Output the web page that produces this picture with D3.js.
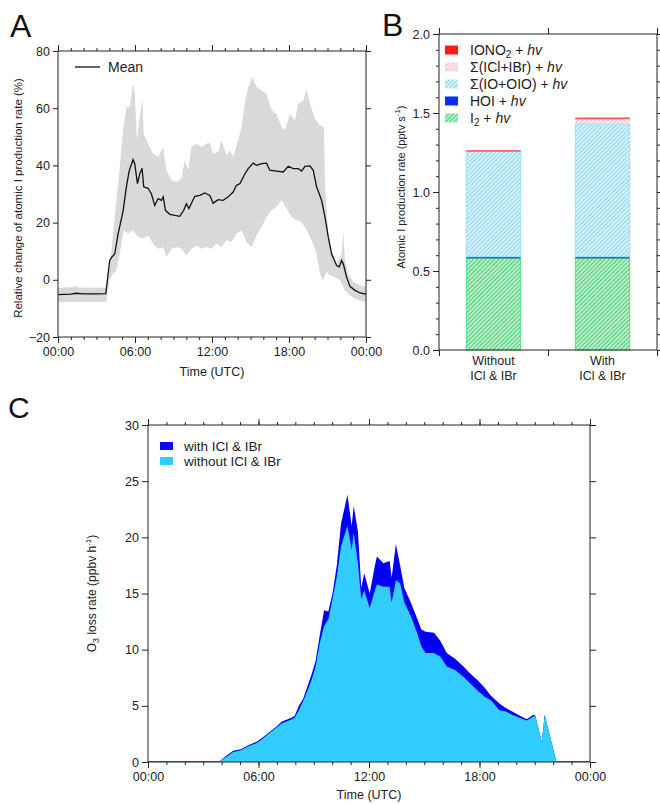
<!DOCTYPE html>
<html>
<head>
<meta charset="UTF-8">
<script src="https://d3js.org/d3.v7.min.js"></script>
<style>
    body { margin: 0; background: #fff; }
    svg { display: block; font-family: "Liberation Sans", Arial, sans-serif; }
    .tick text { font-size: 12.5px; fill: #222; }
    .tick line { stroke: #222; }
    .lbl { font-size: 12.5px; fill: #222; }
</style>
</head>
<body>
<svg width="660" height="804"></svg>
<script>
// ---- Panel A: relative change of atomic I production rate (%) ----
const meanHours = [0, 0.5, 1, 1.4, 2, 3, 3.72, 4.03, 4.2, 4.42, 4.68, 5.07, 5.33, 5.54, 5.85, 5.98, 6.19, 6.37, 6.55, 6.68,
    7.02, 7.28, 7.54, 7.8, 8.06, 8.2, 8.37, 8.71, 9.1, 9.49, 9.8, 10, 10.2, 10.66, 11.05, 11.44, 11.83, 12.09, 12.48, 12.87,
    13.26, 13.65, 13.9, 14.17, 14.56, 14.82, 15.21, 15.47, 15.86, 16.25, 16.5, 17.03, 17.55, 17.94, 18.33, 18.72, 18.98, 19.24,
    19.63, 19.89, 20.15, 20.54, 20.8, 21.06, 21.32, 21.71, 21.92, 22.1, 22.23, 22.49, 22.75, 23.14, 23.53, 24];
const meanValues = [-5.2, -5.1, -5, -4.7, -4.9, -4.9, -4.8, 6.8, 8, 9, 16, 24, 32.5, 38, 42, 40.6, 33.6, 37, 39, 32.5,
    32, 30, 26, 28.4, 27.8, 29, 24.3, 22.9, 22.5, 22.2, 24.3, 26.6, 24.9, 29.2, 29.5, 30.4, 29.5, 26.8, 28, 27.8,
    29, 30.7, 33, 33.6, 37, 38.9, 40.8, 40, 40.6, 40.8, 38.3, 38, 37.7, 39.7, 38.9, 38.9, 38, 39.7,
    39.8, 38.3, 32.5, 27.8, 22, 15, 9, 5, 4.5, 6.8, 5.6, 0.9, -2.3, -3.7, -4.6, -5];

const upperHours = [0, 1, 1.3, 1.6, 3.77, 4.03, 4.29, 4.55, 4.81, 5.07, 5.33, 5.59, 5.85, 5.98, 6.16, 6.37, 6.58, 6.68, 7.02, 7.41,
    7.8, 8.19, 8.45, 8.84, 9.23, 9.62, 9.88, 10.14, 10.4, 10.79, 11.18, 11.57, 11.83, 12.09, 12.48, 12.74, 13.13, 13.39, 13.65, 14.04,
    14.3, 14.56, 14.82, 15.16, 15.47, 15.86, 16.25, 16.64, 17.03, 17.42, 17.68, 18.07, 18.46, 18.72, 19.11, 19.37, 19.63, 20.02,
    20.41, 20.72, 20.8, 21.06, 21.32, 21.71, 22.1, 22.23, 22.36, 22.62, 23.01, 23.53, 24];
const upperValues = [-2.8, -2.6, -2.2, -2.7, -2.8, 4.5, 16, 27.8, 39.4, 52, 60.4, 60.4, 68.6, 65, 48.8, 57, 63.3, 51, 47.6, 44,
    43, 46.4, 38.3, 34.8, 34.2, 35.4, 41.8, 38.3, 46.4, 47.6, 46.4, 47.6, 48, 44, 44.7, 48.8, 43.5, 45.3, 43, 48.8,
    53.4, 61.6, 67.4, 70.9, 67.4, 66.2, 65, 59.3, 58, 53.4, 52.3, 58, 55.8, 61.6, 62.7, 66.8, 61.6, 56.3,
    54, 53.4, 33.6, 16, 10.3, 5.6, 9, 17, 6.8, 2.1, -0.8, -1.9, -2.5];

const lowerHours = [0, 3.77, 4.03, 4.29, 4.55, 4.81, 5.12, 5.46, 5.85, 6.24, 6.63, 7.02, 7.41, 7.8, 8.19, 8.45, 8.84, 9.23, 9.62, 10,
    10.4, 10.79, 11.18, 11.57, 11.96, 12.35, 12.74, 13.13, 13.52, 13.91, 14.3, 14.69, 15.08, 15.47, 15.86, 16.25, 16.64, 17.03,
    17.42, 17.81, 18.2, 18.59, 18.98, 19.37, 19.76, 20.15, 20.41, 20.67, 20.93, 21.19, 21.58, 21.97, 22.36, 22.75, 23.14, 23.53, 24];
const lowerValues = [-7.8, -7.8, 0.4, 2.1, 3.3, 9, 17.3, 16.1, 17.3, 15, 14.4, 15.5, 12.6, 10.9, 11.5, 8, 10.9, 11.5, 10.9, 8.6,
    10.9, 12, 10.9, 11.5, 10.9, 12.6, 11.5, 13.8, 13.2, 16.1, 17.3, 13.2, 11.5, 15.5, 18.5, 22, 24.3, 25.5,
    27.8, 24.9, 22, 20.8, 20.2, 17.3, 13.8, 9.1, 2.1, -0.2, 2.7, 1.6, 1, -0.2, -3.7, -5.4, -6.6, -7.2, -7.8];

// ---- Panel B: atomic I production rate (pptv s-1) ----
const scenarios = ["Without", "With"];
const pathwayKeys = ["I2", "HOI", "IOOIO", "IClIBr", "IONO2"];
const i2Rate = [0.58, 0.58];
const hoiRate = [0.01, 0.01];
const ioOioRate = [0.665, 0.84];
const iclIbrRate = [0.0, 0.03];
const iono2Rate = [0.01, 0.012];

// ---- Panel C: O3 loss rate (ppbv h-1) ----
const hoursC = [0, 3.83, 4.29, 4.63, 5.09, 5.44, 5.9, 6.24, 6.58, 6.93, 7.27, 7.73, 7.96, 8.19, 8.42, 8.65, 8.88, 9.1, 9.33, 9.56,
    9.79, 10.02, 10.25, 10.48, 10.83, 11.06, 11.17, 11.4, 11.58, 11.74, 12.04, 12.32, 12.43, 12.78, 13.12, 13.23, 13.46, 13.69,
    13.92, 14.27, 14.61, 14.84, 15.07, 15.53, 15.87, 16.22, 16.67, 17.13, 17.48, 17.94, 18.28, 18.62, 19.08, 19.43, 19.77,
    20.23, 20.57, 20.92, 21.03, 21.38, 21.54, 21.83, 22.18, 24];
const withoutC = [0, 0, 0.5, 0.9, 1.07, 1.4, 1.7, 2.1, 2.55, 3.0, 3.45, 3.75, 3.95, 4.6, 5.4, 6.3, 7.3, 8.5, 10.6, 12.1,
    12.7, 14.5, 16.5, 19.2, 21.0, 18.9, 20.4, 17.7, 14.5, 15.3, 13.7, 15.3, 15.8, 15.6, 15.6, 14.2, 16.2, 15.9,
    14.2, 13.0, 11.5, 10.3, 9.7, 9.7, 9.4, 8.5, 8.2, 7.6, 7.0, 6.3, 5.8, 5.5, 4.6, 4.5, 4.2,
    3.9, 3.7, 4.05, 4.1, 1.8, 4.2, 2.3, 0, 0];
const withC = [0, 0, 0.6, 1.0, 1.15, 1.5, 1.8, 2.2, 2.65, 3.1, 3.6, 3.9, 4.1, 5.0, 5.6, 6.7, 7.8, 9.0, 11.3, 13.5,
    13.4, 15.0, 17.5, 21.2, 23.8, 21.0, 22.8, 20.5, 15.5, 16.8, 15.0, 17.5, 18.3, 17.7, 17.9, 16.4, 19.4, 17.5,
    15.5, 14.2, 12.8, 11.8, 11.6, 11.5, 10.8, 9.7, 9.2, 8.5, 7.9, 7.2, 6.6, 5.9, 5.2, 4.8, 4.5,
    4.1, 3.8, 4.2, 4.15, 1.8, 4.2, 2.3, 0, 0];

const svg = d3.select("svg");
const fmtTime = h => d3.format("02d")(h % 24) + ":00";

function drawFrame(g, w, h) {
    g.append("rect").attr("width", w).attr("height", h)
        .attr("fill", "none").attr("stroke", "#222").attr("stroke-width", 1);
}

function timeAxes(g, x, w, h) {
    g.append("g").attr("transform", `translate(0,${h})`)
        .call(d3.axisBottom(x).tickValues(d3.range(0, 25)).tickSize(3).tickFormat(""))
        .call(a => a.select(".domain").remove());
    g.append("g").attr("transform", `translate(0,${h})`)
        .call(d3.axisBottom(x).tickValues([0, 6, 12, 18, 24]).tickSize(6).tickPadding(4).tickFormat(fmtTime))
        .call(a => a.select(".domain").remove());
    g.append("g")
        .call(d3.axisTop(x).tickValues(d3.range(0, 25)).tickSize(3).tickFormat(""))
        .call(a => a.select(".domain").remove());
    g.append("g")
        .call(d3.axisTop(x).tickValues([0, 6, 12, 18, 24]).tickSize(6).tickFormat(""))
        .call(a => a.select(".domain").remove());
}

// ================= Panel A =================
{
    const m = { left: 58, top: 51, right: 366, bottom: 337 };
    const w = m.right - m.left, h = m.bottom - m.top;
    const g = svg.append("g").attr("transform", `translate(${m.left},${m.top})`);
    const x = d3.scaleLinear().domain([0, 24]).range([0, w]);
    const y = d3.scaleLinear().domain([-20, 80]).range([h, 0]);

    const upperPts = upperHours.map((t, i) => [t, upperValues[i]]);
    const lowerPts = lowerHours.map((t, i) => [t, lowerValues[i]]).reverse();
    const bandLine = d3.line().x(d => x(d[0])).y(d => y(d[1]));
    g.append("path")
        .attr("d", bandLine(upperPts.concat(lowerPts)) + "Z")
        .attr("fill", "#d9d9d9");

    g.append("path")
        .datum(meanHours.map((t, i) => [t, meanValues[i]]))
        .attr("d", bandLine)
        .attr("fill", "none").attr("stroke", "#111").attr("stroke-width", 1.3);

    drawFrame(g, w, h);
    timeAxes(g, x, w, h);
    g.append("g")
        .call(d3.axisLeft(y).tickValues([-20, 0, 20, 40, 60, 80]).tickSize(5).tickPadding(3))
        .call(a => a.select(".domain").remove());
    g.append("g").attr("transform", `translate(${w},0)`)
        .call(d3.axisRight(y).tickValues([-20, 0, 20, 40, 60, 80]).tickSize(5).tickFormat(""))
        .call(a => a.select(".domain").remove());

    g.append("line").attr("x1", 17).attr("x2", 42).attr("y1", 16).attr("y2", 16)
        .attr("stroke", "#111").attr("stroke-width", 1.3);
    g.append("text").attr("x", 50).attr("y", 21).style("font-size", "14px").attr("fill", "#222").text("Mean");

    g.append("text").attr("class", "lbl").attr("x", w / 2).attr("y", h + 39)
        .attr("text-anchor", "middle").text("Time (UTC)");
    g.append("text").attr("transform", `translate(-36,${h / 2 + 4}) rotate(-90)`)
        .attr("text-anchor", "middle").style("font-size", "11.5px").attr("fill", "#222")
        .text("Relative change of atomic I production rate (%)");

    svg.append("text").attr("x", 10).attr("y", 37).style("font-size", "32px").attr("fill", "#111").text("A");
}

// ================= Panel B =================
{
    const m = { left: 439, top: 34, right: 657, bottom: 350 };
    const w = m.right - m.left, h = m.bottom - m.top;
    const g = svg.append("g").attr("transform", `translate(${m.left},${m.top})`);

    const defs = svg.append("defs");
    const hatch = (id, bg, fg) => {
        const p = defs.append("pattern").attr("id", id).attr("patternUnits", "userSpaceOnUse")
            .attr("width", 3).attr("height", 3).attr("patternTransform", "rotate(45)");
        p.append("rect").attr("width", 3).attr("height", 3).attr("fill", bg);
        p.append("line").attr("x1", 0.7).attr("x2", 0.7).attr("y1", 0).attr("y2", 3)
            .attr("stroke", fg).attr("stroke-width", 1.2);
    };
    hatch("hGreen", "#d2f5dc", "#3ccc6a");
    hatch("hBlue", "#e4f6fd", "#86d4f2");
    hatch("hPink", "#fdeef5", "#f6bcd9");

    const styles = {
        I2: { fill: "url(#hGreen)", stroke: "#3ddc6e" },
        HOI: { fill: "#1448f0", stroke: "none" },
        IOOIO: { fill: "url(#hBlue)", stroke: "#8fdcf8" },
        IClIBr: { fill: "url(#hPink)", stroke: "none" },
        IONO2: { fill: "#ff5a5a", stroke: "none" }
    };

    const rows = scenarios.map((s, i) => ({
        name: s, I2: i2Rate[i], HOI: hoiRate[i], IOOIO: ioOioRate[i], IClIBr: iclIbrRate[i], IONO2: iono2Rate[i]
    }));
    const series = d3.stack().keys(pathwayKeys)(rows);

    const x = d3.scaleBand().domain(scenarios).range([0, w]).paddingInner(0.5).paddingOuter(0.25);
    const y = d3.scaleLinear().domain([0, 2]).range([h, 0]);

    series.forEach(s => {
        g.append("g").selectAll("rect").data(s).join("rect")
            .attr("x", d => x(d.data.name))
            .attr("width", x.bandwidth())
            .attr("y", d => y(d[1]))
            .attr("height", d => y(d[0]) - y(d[1]))
            .attr("fill", styles[s.key].fill)
            .attr("stroke", styles[s.key].stroke)
            .attr("stroke-width", 0.8);
    });

    drawFrame(g, w, h);
    const yTicks = d3.range(0, 2.01, 0.5);
    const yMinor = d3.range(0, 2.01, 0.1);
    g.append("g").call(d3.axisLeft(y).tickValues(yMinor).tickSize(3).tickFormat(""))
        .call(a => a.select(".domain").remove());
    g.append("g").call(d3.axisLeft(y).tickValues(yTicks).tickSize(6).tickPadding(3).tickFormat(d3.format(".1f")))
        .call(a => a.select(".domain").remove());
    g.append("g").attr("transform", `translate(${w},0)`)
        .call(d3.axisRight(y).tickValues(yMinor).tickSize(3).tickFormat(""))
        .call(a => a.select(".domain").remove());
    g.append("g").attr("transform", `translate(${w},0)`)
        .call(d3.axisRight(y).tickValues(yTicks).tickSize(6).tickFormat(""))
        .call(a => a.select(".domain").remove());
    const xb = d3.scaleLinear().domain([0, 2]).range([0, w]);
    g.append("g").attr("transform", `translate(0,${h})`)
        .call(d3.axisBottom(xb).tickValues([0, 1, 2]).tickSize(6).tickFormat(""))
        .call(a => a.select(".domain").remove());
    g.append("g")
        .call(d3.axisTop(xb).tickValues([0, 1, 2]).tickSize(6).tickFormat(""))
        .call(a => a.select(".domain").remove());

    scenarios.forEach(s => {
        const t = g.append("text").attr("class", "lbl").attr("text-anchor", "middle")
            .attr("x", x(s) + x.bandwidth() / 2).attr("y", h + 15);
        t.append("tspan").text(s);
        t.append("tspan").attr("x", x(s) + x.bandwidth() / 2).attr("dy", 14.5).text("ICl & IBr");
    });

    const yl = g.append("text").attr("transform", `translate(-34,${h / 2 - 5}) rotate(-90)`)
        .attr("text-anchor", "middle").style("font-size", "11px").attr("fill", "#222");
    yl.append("tspan").text("Atomic I production rate (pptv s");
    yl.append("tspan").attr("dy", -5).style("font-size", "8px").text("-1");
    yl.append("tspan").attr("dy", 5).text(")");

    const legend = [
        { key: "IONO2", parts: [["IONO", ""], ["2", "sub"], [" + ", "up"], ["hv", "i"]] },
        { key: "IClIBr", parts: [["Σ(ICl+IBr) + ", ""], ["hv", "i"]] },
        { key: "IOOIO", parts: [["Σ(IO+OIO) + ", ""], ["hv", "i"]] },
        { key: "HOI", parts: [["HOI + ", ""], ["hv", "i"]] },
        { key: "I2", parts: [["I", ""], ["2", "sub"], [" + ", "up"], ["hv", "i"]] }
    ];
    legend.forEach((L, i) => {
        const ly = 16 + i * 17;
        g.append("rect").attr("x", 6).attr("y", ly - 4.5).attr("width", 13).attr("height", 9)
            .attr("fill", L.key === "IONO2" ? "#ff1a1a" : L.key === "HOI" ? "#0a2cf5" : styles[L.key].fill);
        const t = g.append("text").attr("x", 31).attr("y", ly + 5).style("font-size", "14px").attr("fill", "#222");
        L.parts.forEach(([txt, kind]) => {
            const sp = t.append("tspan").text(txt);
            if (kind === "sub") sp.attr("dy", 3).style("font-size", "10px");
            if (kind === "up") sp.attr("dy", -3);
            if (kind === "i") sp.style("font-style", "italic");
        });
    });

    svg.append("text").attr("x", 382).attr("y", 36).style("font-size", "32px").attr("fill", "#111").text("B");
}

// ================= Panel C =================
{
    const m = { left: 148, top: 425, right: 590, bottom: 762 };
    const w = m.right - m.left, h = m.bottom - m.top;
    const g = svg.append("g").attr("transform", `translate(${m.left},${m.top})`);
    const x = d3.scaleLinear().domain([0, 24]).range([0, w]);
    const y = d3.scaleLinear().domain([0, 30]).range([h, 0]);

    g.append("line").attr("x1", 0).attr("x2", w).attr("y1", h - 0.5).attr("y2", h - 0.5)
        .attr("stroke", "#1b7fa0").attr("stroke-width", 1);
    const area = vals => d3.area().x((d, i) => x(hoursC[i])).y0(y(0)).y1((d, i) => y(vals[i]))(vals);
    g.append("path").attr("d", area(withC)).attr("fill", "#0000f5");
    g.append("path").attr("d", area(withoutC)).attr("fill", "#33ccff");

    drawFrame(g, w, h);
    timeAxes(g, x, w, h);
    const yTicks = d3.range(0, 31, 5);
    g.append("g").call(d3.axisLeft(y).tickValues(yTicks).tickSize(6).tickPadding(3))
        .call(a => a.select(".domain").remove());
    g.append("g").attr("transform", `translate(${w},0)`)
        .call(d3.axisRight(y).tickValues(yTicks).tickSize(6).tickFormat(""))
        .call(a => a.select(".domain").remove());

    const leg = [["with ICl & IBr", "#0a0af5"], ["without ICl & IBr", "#33ccff"]];
    leg.forEach(([name, col], i) => {
        const ly = 21 + i * 15;
        g.append("rect").attr("x", 12).attr("y", ly - 4).attr("width", 13).attr("height", 8).attr("fill", col);
        g.append("text").attr("x", 36).attr("y", ly + 5).style("font-size", "13.5px").attr("fill", "#222").text(name);
    });

    g.append("text").attr("class", "lbl").attr("x", w / 2).attr("y", h + 37)
        .attr("text-anchor", "middle").text("Time (UTC)");
    const yl = g.append("text").attr("transform", `translate(-52,${h / 2}) rotate(-90)`)
        .attr("text-anchor", "middle").style("font-size", "12px").attr("fill", "#222");
    yl.append("tspan").text("O");
    yl.append("tspan").attr("dy", 3).style("font-size", "9px").text("3");
    yl.append("tspan").attr("dy", -3).text(" loss rate (ppbv h");
    yl.append("tspan").attr("dy", -5).style("font-size", "8px").text("-1");
    yl.append("tspan").attr("dy", 5).text(")");

    svg.append("text").attr("x", 8).attr("y", 418).style("font-size", "30px").attr("fill", "#111").text("C");
}
</script>
</body>
</html>
